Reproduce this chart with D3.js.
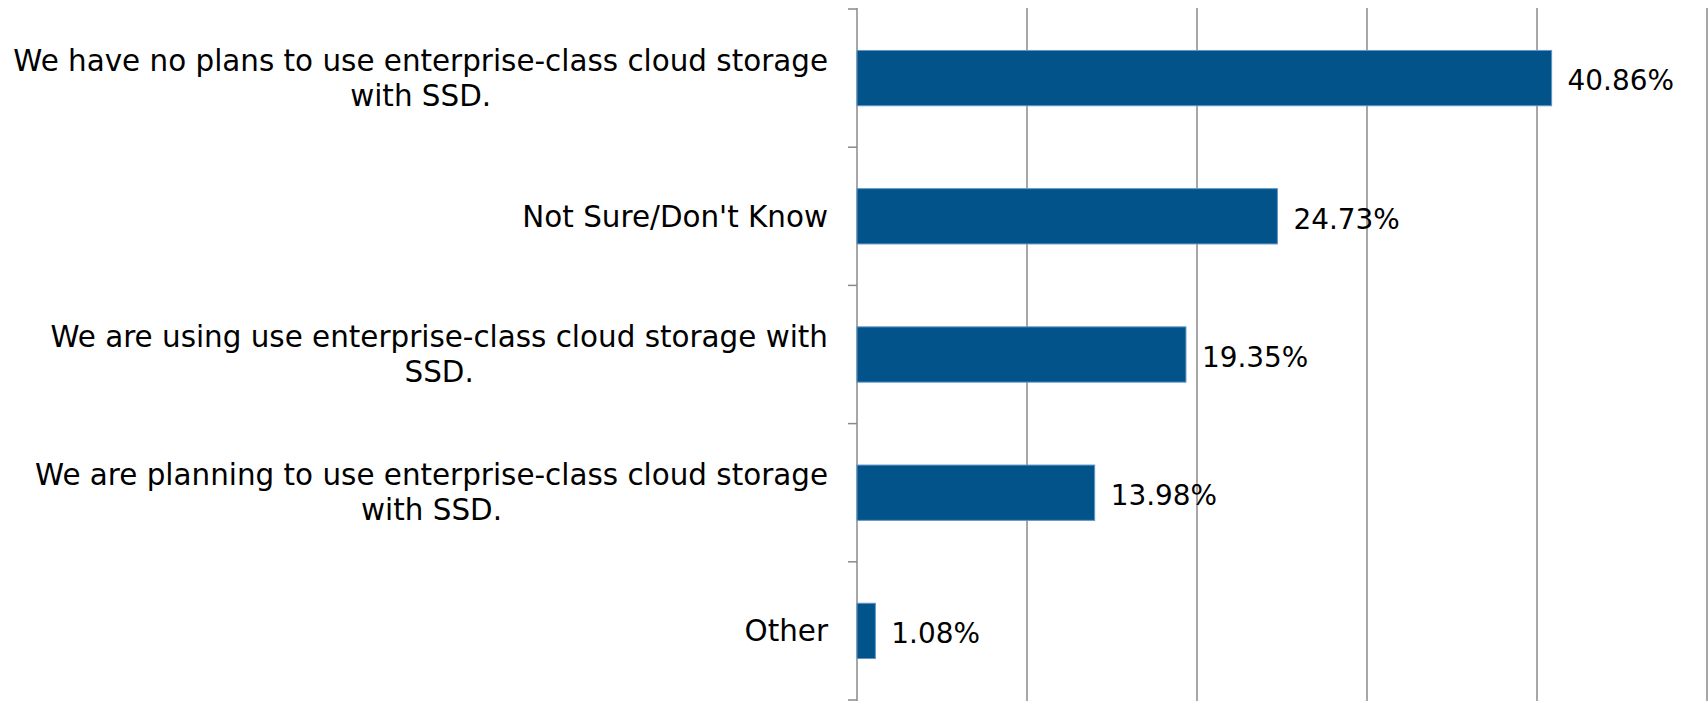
<!DOCTYPE html>
<html>
<head>
<meta charset="utf-8">
<script src="https://cdn.jsdelivr.net/npm/d3@7"></script>
<style>
  html, body { margin: 0; padding: 0; background: #fff; }
  svg { display: block; }
</style>
</head>
<body>
<div id="chart"></div>
<script>
// survey answers, top to bottom (line breaks as in the original wrap)
const categories = [
  'We have no plans to use enterprise-class cloud storage\nwith SSD.',
  "Not Sure/Don't Know",
  'We are using use enterprise-class cloud storage with\nSSD.',
  'We are planning to use enterprise-class cloud storage\nwith SSD.',
  'Other'
];
const values = [40.86, 24.73, 19.35, 13.98, 1.08];
const gridTicks = [10, 20, 30, 40, 50];

const width = 1708;
const height = 701;
const margin = { top: 9, right: 1, bottom: 1, left: 857 };
const fontFamily = "'DejaVu Sans', Verdana, sans-serif";

const svg = d3.select('#chart').append('svg')
  .attr('width', width)
  .attr('height', height);

const x = d3.scaleLinear()
  .domain([0, 50])
  .range([margin.left, width - margin.right]);

const y = d3.scaleBand()
  .domain(categories)
  .range([margin.top, height - margin.bottom]);

const barH = y.bandwidth() * 0.4;

// vertical gridlines
svg.append('g')
  .selectAll('line')
  .data(gridTicks)
  .join('line')
  .attr('x1', (d) => x(d))
  .attr('x2', (d) => x(d))
  .attr('y1', margin.top - 1)
  .attr('y2', height)
  .attr('stroke', '#8a8a8a')
  .attr('stroke-width', 1.5);

// category axis with ticks between the bands
const axis = svg.append('g');
axis.append('line')
  .attr('x1', x(0)).attr('x2', x(0))
  .attr('y1', margin.top - 1).attr('y2', height)
  .attr('stroke', '#8a8a8a')
  .attr('stroke-width', 1.5);
axis.selectAll('line.tick')
  .data(d3.range(categories.length + 1))
  .join('line')
  .attr('class', 'tick')
  .attr('x1', x(0) - 9)
  .attr('x2', x(0))
  .attr('y1', (i) => margin.top + i * y.step())
  .attr('y2', (i) => margin.top + i * y.step())
  .attr('stroke', '#8a8a8a')
  .attr('stroke-width', 1.5);

// category labels, centred on the band
const lineH = 35;
axis.selectAll('text')
  .data(categories)
  .join('text')
  .attr('font-family', fontFamily)
  .attr('font-size', 29.4)
  .attr('fill', '#000')
  .attr('text-anchor', 'middle')
  .each(function (d) {
    const lines = d.split('\n');
    const el = d3.select(this);
    const cy = y(d) + y.bandwidth() / 2;
    lines.forEach((ln, i) => {
      el.append('tspan')
        .attr('y', cy + (i - (lines.length - 1) / 2) * lineH)
        .attr('dy', '0.35em')
        .text(ln);
    });
  });

// centre the wrapped lines under the widest one, right edge near the axis
axis.selectAll('text').each(function () {
  const el = d3.select(this);
  const spans = el.selectAll('tspan').nodes();
  const w = d3.max(spans, (s) => s.getComputedTextLength());
  const right = x(0) - 29;
  spans.forEach((s) => d3.select(s).attr('x', right - w / 2));
});

// bars
svg.append('g')
  .selectAll('rect')
  .data(values)
  .join('rect')
  .attr('x', x(0))
  .attr('y', (d, i) => y(categories[i]) + (y.bandwidth() - barH) / 2)
  .attr('width', (d) => x(d) - x(0))
  .attr('height', barH)
  .attr('fill', '#02538a')
  .attr('stroke', '#5f95c6')
  .attr('stroke-width', 1);

// value labels
svg.append('g')
  .selectAll('text')
  .data(values)
  .join('text')
  .attr('x', (d) => x(d) + 16)
  .attr('y', (d, i) => y(categories[i]) + y.bandwidth() / 2)
  .attr('dy', '0.44em')
  .attr('font-family', fontFamily)
  .attr('font-size', 27.9)
  .attr('fill', '#000')
  .text((d) => d.toFixed(2) + '%');
</script>
</body>
</html>
